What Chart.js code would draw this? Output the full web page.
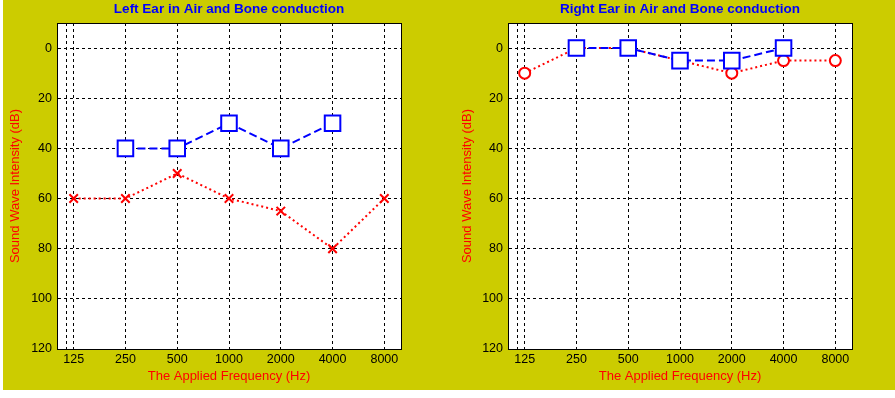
<!DOCTYPE html>
<html>
<head>
<meta charset="utf-8">
<script src="https://cdn.jsdelivr.net/npm/chart.js@4.4.0/dist/chart.umd.min.js"></script>
<style>
  body { margin: 0; background: #fff; }
  #panel { position: absolute; left: 3px; top: 0; width: 892px; height: 390px; background: #cccc00; }
  canvas { position: absolute; top: 0; }
</style>
</head>
<body>
<div id="panel">
  <canvas id="leftEar" width="447" height="390" style="left:0"></canvas>
  <canvas id="rightEar" width="445" height="390" style="left:447px"></canvas>
</div>
<script>
// frequencies (Hz)
const freqs = [125, 250, 500, 1000, 2000, 4000, 8000];
const boneFreqs = [250, 500, 1000, 2000, 4000];
// hearing levels (dB)
const leftAir = [60, 60, 50, 60, 65, 80, 60];
const leftBone = [40, 40, 30, 40, 30];
const rightAir = [10, 0, 0, 5, 10, 5, 5];
const rightBone = [0, 0, 5, 5, 0];
// axis ticks
const xGrid = [113, 125, 250, 500, 1000, 2000, 4000, 8000];
const xTickLabels = ['', '125', '250', '500', '1000', '2000', '4000', '8000'];
const yTicks = [0, 20, 40, 60, 80, 100, 120];

Chart.defaults.font.family = "'Liberation Sans', Arial, sans-serif";
Chart.defaults.font.size = 12.5;
Chart.defaults.color = '#000';

const plotFrame = {
  id: 'plotFrame',
  beforeDraw(chart) {
    const a = chart.chartArea, ctx = chart.ctx;
    ctx.save();
    ctx.fillStyle = '#fff';
    ctx.fillRect(a.left, a.top, a.right - a.left, a.bottom - a.top);
    ctx.restore();
  },
  afterDraw(chart) {
    const a = chart.chartArea, ctx = chart.ctx;
    ctx.save();
    ctx.strokeStyle = '#000';
    ctx.lineWidth = 1;
    ctx.strokeRect(Math.round(a.left) + 0.5, Math.round(a.top) + 0.5, Math.round(a.right - a.left), Math.round(a.bottom - a.top));
    ctx.restore();
  }
};

const toPoints = (xs, ys) => xs.map((x, i) => ({ x: x, y: ys[i] }));

function makeChart(id, title, air, bone, airStyle, airRadius, yWidth, rightPad, yTitlePad) {
  return new Chart(document.getElementById(id), {
    type: 'line',
    data: {
      datasets: [
        {
          label: 'Bone',
          data: toPoints(boneFreqs, bone),
          borderColor: '#0000ff',
          backgroundColor: '#fff',
          borderWidth: 2,
          borderDash: [8, 4],
          pointStyle: 'rect',
          pointRadius: 11,
          pointBorderWidth: 2,
          pointBackgroundColor: '#fff'
        },
        {
          label: 'Air',
          data: toPoints(freqs, air),
          borderColor: '#ff0000',
          backgroundColor: '#fff',
          borderWidth: 2,
          borderDash: [2, 3],
          pointStyle: airStyle,
          pointRadius: airRadius,
          pointBorderWidth: 2,
          pointBackgroundColor: '#fff'
        }
      ]
    },
    options: {
      responsive: false,
      animation: false,
      devicePixelRatio: 1,
      layout: { padding: { left: 0, right: rightPad, top: 0, bottom: 0 } },
      plugins: {
        legend: { display: false },
        tooltip: { enabled: false },
        title: {
          display: true,
          text: title,
          color: '#0000ff',
          fullSize: false,
          font: { size: 13.5, weight: 'bold' },
          padding: { top: 0.9, bottom: 5.9 }
        }
      },
      scales: {
        x: {
          type: 'logarithmic',
          min: 100,
          max: 10000,
          afterBuildTicks: s => { s.ticks = xGrid.map(v => ({ value: v })); },
          afterFit: s => { s.height = 41; },
          ticks: {
            autoSkip: false,
            maxRotation: 0,
            padding: 3.5,
            callback: (v, i) => xTickLabels[i]
          },
          grid: { color: '#000', lineWidth: 1, drawTicks: false },
          border: { display: true, color: '#000', dash: [3, 3] },
          title: {
            display: true,
            text: 'The Applied Frequency (Hz)',
            color: '#ff0000',
            font: { size: 13 },
            padding: { top: 0, bottom: 5.7 }
          }
        },
        y: {
          type: 'linear',
          reverse: true,
          min: -10,
          max: 120,
          afterBuildTicks: s => { s.ticks = yTicks.map(v => ({ value: v })); },
          afterFit: s => { s.width = yWidth; },
          ticks: { padding: 5 },
          grid: { color: '#000', lineWidth: 1, drawTicks: false },
          border: { display: true, color: '#000', dash: [3, 3] },
          title: {
            display: true,
            text: 'Sound Wave Intensity (dB)',
            color: '#ff0000',
            font: { size: 13 },
            padding: { top: yTitlePad, bottom: 0 }
          }
        }
      }
    },
    plugins: [plotFrame]
  });
}

makeChart('leftEar', 'Left Ear in Air and Bone conduction', leftAir, leftBone, 'crossRot', 6, 54, 49, 4.2);
makeChart('rightEar', 'Right Ear in Air and Bone conduction', rightAir, rightBone, 'circle', 5.5, 58, 43, 9.2);
</script>
</body>
</html>
